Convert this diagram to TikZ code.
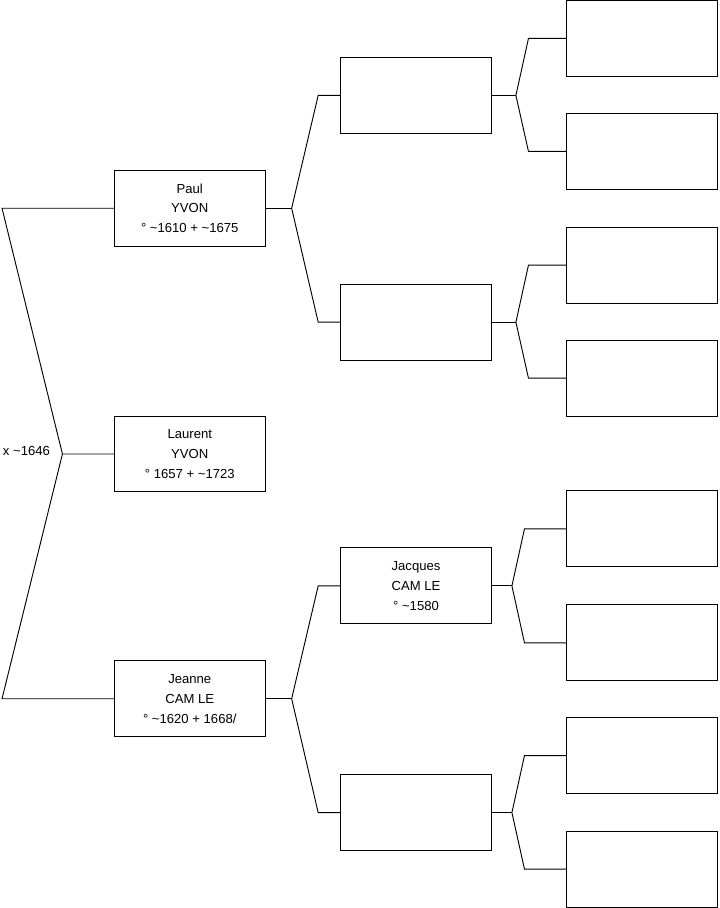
\documentclass[tikz,border=0pt]{standalone}
\usepackage{fontspec}
\setmainfont{Liberation Sans}
\newcommand{\ctilde}{\textasciitilde}
\begin{document}
\begin{tikzpicture}[x=0.03cm,y=-0.03cm,line width=.8pt,font=\fontsize{11.2}{17}\selectfont,
  person/.style={draw,fill=white,minimum width=4.53cm,minimum height=2.28cm,align=center,inner sep=0pt}]
  \useasboundingbox (-0.5,-0.5) rectangle (719.5,908.5);
  % generation 1
  \node[person] (paul) at (189.5,208) {Paul\\YVON\\° \ctilde1610 + \ctilde1675};
  \node[person] (laurent) at (189.5,454) {Laurent\\YVON\\° 1657 + \ctilde1723};
  \node[person] (jeanne) at (189.5,699) {Jeanne\\CAM LE\\° \ctilde1620 + 1668/};
  % generation 2
  \node[person] (paulF) at (416,95) {};
  \node[person] (paulM) at (416,322) {};
  \node[person] (jacques) at (416,586) {Jacques\\CAM LE\\° \ctilde1580};
  \node[person] (jeanneM) at (416,813) {};
  % generation 3
  \node[person] (paulFF) at (642.5,38) {};
  \node[person] (paulFM) at (642.5,151) {};
  \node[person] (paulMF) at (642.5,265) {};
  \node[person] (paulMM) at (642.5,378) {};
  \node[person] (jacquesF) at (642.5,529) {};
  \node[person] (jacquesM) at (642.5,643) {};
  \node[person] (jeanneMF) at (642.5,756) {};
  \node[person] (jeanneMM) at (642.5,869.5) {};
  % marriage
  \coordinate (mL) at (62,454);
  \node[anchor=east,inner sep=0pt] (marr) at (50,451) {x \ctilde1646};
  \draw (paul.west) -- ++(-112,0) -- (mL);
  \draw (jeanne.west) -- ++(-112,0) -- (mL) -- (laurent.west);
  % parents
  \foreach \c/\f/\m/\d/\k in {paul/paulF/paulM/26/22, jeanne/jacques/jeanneM/26/22,
      paulF/paulFF/paulFM/24/38, paulM/paulMF/paulMM/24/38,
      jacques/jacquesF/jacquesM/20/42, jeanneM/jeanneMF/jeanneMM/20/42} {
    \draw (\c.east) -- ++(\d,0) coordinate (f\c);
    \draw (\f.west) -- ++(-\k,0) -- (f\c);
    \draw (\m.west) -- ++(-\k,0) -- (f\c);
  }
\end{tikzpicture}
\end{document}
